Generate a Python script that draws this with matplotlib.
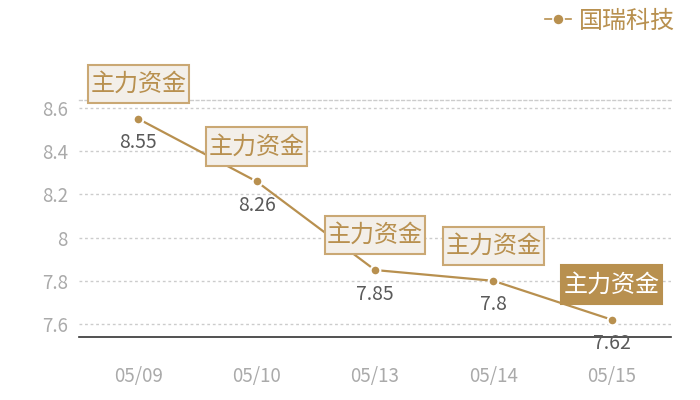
import matplotlib
matplotlib.use('Agg')
import matplotlib.pyplot as plt
from matplotlib.lines import Line2D
from matplotlib.path import Path

plt.rcParams['font.family'] = ['Noto Sans CJK SC', 'DejaVu Sans']

# data
dates = ['05/09', '05/10', '05/13', '05/14', '05/15']
prices = [8.55, 8.26, 7.85, 7.8, 7.62]
price_labels = ['8.55', '8.26', '7.85', '7.8', '7.62']
flag_text = '主力资金'
series_name = '国瑞科技'
yticks = [7.6, 7.8, 8.0, 8.2, 8.4, 8.6]
ytick_labels = ['7.6', '7.8', '8', '8.2', '8.4', '8.6']

gold = '#b8904f'
box_fill = '#f3efe9'
box_edge = '#caa874'


def flag_box(x0, y0, width, height, mutation_size):
    # little horizontal padding, more vertical, like the reference tags
    px = 0.1 * mutation_size
    py = 0.26 * mutation_size
    x0, y0 = x0 - px, y0 - py
    x1, y1 = x0 + width + 2 * px, y0 + height + 2 * py
    return Path([(x0, y0), (x1, y0), (x1, y1), (x0, y1), (x0, y0)],
                closed=True)


fig = plt.figure(figsize=(7, 4), dpi=100)
ax = fig.add_axes([79 / 700, 63 / 400, 592 / 700, 237 / 400])

x = list(range(len(dates)))
ax.plot(x, prices, color=gold, lw=1.6, zorder=2)
ax.plot(x, prices, 'o', ms=7, mfc=gold, mec='white', mew=1.5, zorder=3)

ax.set_xlim(-0.5, len(dates) - 0.5)
ax.set_ylim(7.54, 8.637)
ax.set_xticks(x)
ax.set_xticklabels(dates)
ax.set_yticks(yticks)
ax.set_yticklabels(ytick_labels)
ax.tick_params(axis='both', length=0, colors='#aaaaaa', labelsize=13.5)
ax.tick_params(axis='x', pad=21)
ax.tick_params(axis='y', pad=8)

ax.grid(axis='y', color='#cccccc', ls=(0, (2, 2)), lw=1)
for s in ['left', 'right']:
    ax.spines[s].set_visible(False)
ax.spines['top'].set_color('#cccccc')
ax.spines['top'].set_linestyle((0, (2, 2)))
ax.spines['top'].set_linewidth(1)
ax.spines['bottom'].set_color('#333333')
ax.spines['bottom'].set_linewidth(1.2)

for i, (v, lab) in enumerate(zip(prices, price_labels)):
    ax.annotate(lab, (i, v), xytext=(0, -24), textcoords='offset pixels',
                ha='center', va='center', fontsize=14, color='#5a5a5a', zorder=5)
    last = i == len(prices) - 1
    ax.annotate(flag_text, (i, v), xytext=(0, 35), textcoords='offset pixels',
                ha='center', va='center', fontsize=17.3,
                color='white' if last else gold, zorder=6,
                bbox=dict(boxstyle=flag_box,
                          fc=gold if last else box_fill,
                          ec=gold if last else box_edge, lw=1.5))

handle = Line2D([], [], color=gold, lw=1.2, marker='o', ms=8,
                mfc=gold, mec='white', mew=1.2)
fig.legend([handle], [series_name], loc='upper right',
           bbox_to_anchor=(697 / 700, 1.035), frameon=False,
           handlelength=1.1, handletextpad=0.35, fontsize=17.3,
           labelcolor=gold)

fig.savefig('out.png', dpi=100)
